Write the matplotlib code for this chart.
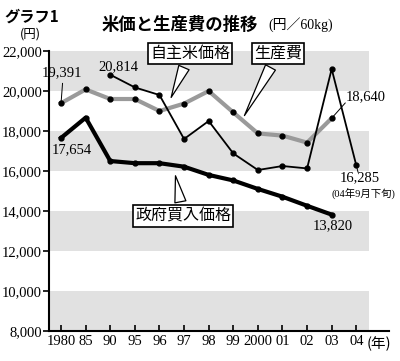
import matplotlib
matplotlib.use("Agg")
import matplotlib.pyplot as plt

# ---------- DATA ----------
years = ["1980", "85", "90", "95", "96", "97", "98", "99", "2000", "01", "02", "03", "04"]

# 生産費 (1980-2003)
cost = [19391, 20080, 19600, 19600, 19000, 19370, 20000, 18930, 17880, 17770, 17420, 18640]
# 自主米価格 (1990-2004)
jishu = [20814, 20180, 19800, 17600, 18500, 16880, 16050, 16250, 16130, 21100, 16285]
# 政府買入価格 (1980-2003)
gov = [17654, 18668, 16500, 16392, 16392, 16217, 15805, 15528, 15104, 14715, 14262, 13820]

yticks = [8000, 10000, 12000, 14000, 16000, 18000, 20000, 22000]
bands = [(8000, 10000), (12000, 14000), (16000, 18000), (20000, 22000)]

SERIF = ["Liberation Serif", "Noto Sans CJK JP"]
GOTHIC = ["Noto Sans CJK JP", "DejaVu Sans"]

# ---------- PLOT ----------
fig = plt.figure(figsize=(4.0, 3.61), dpi=100)
ax = fig.add_axes([0.1225, 0.083, 0.85, 0.7757])

x_all = list(range(len(years)))
for lo, hi in bands:
    ax.fill_between([-0.49, 12.52], lo, hi, color="#e1e1e1", lw=0, zorder=0)

ax.plot(x_all[:len(gov)], gov, color="black", lw=3.0, marker="o", ms=3.5, zorder=3)
ax.plot(x_all[:len(cost)], cost, color="#9a9a9a", lw=3.0, zorder=2)
ax.plot(x_all[:len(cost)], cost, ls="none", marker="o", ms=3.5, color="black", zorder=4)
ax.plot(x_all[2:2 + len(jishu)], jishu, color="black", lw=1.3, marker="o", ms=3.5, zorder=3)

ax.set_xlim(-0.49, 13.33)
ax.set_ylim(8000, 22000)
ax.set_xticks(x_all)
ax.set_xticklabels(years, family=SERIF, fontsize=10.5)
ax.set_yticks(yticks)
ax.set_yticklabels([f"{v:,}" for v in yticks], family=SERIF, fontsize=10.5)
ax.tick_params(axis="x", direction="in", length=4, width=1.2, pad=3)
ax.tick_params(axis="y", direction="out", length=4, width=1.2, pad=1)
for s in ["top", "right"]:
    ax.spines[s].set_visible(False)
for s in ["left", "bottom"]:
    ax.spines[s].set_linewidth(1.5)

ax.annotate("(年)", xy=(12.42, 8000), xytext=(0, -4), textcoords="offset points",
            family=GOTHIC, fontsize=10.5, ha="left", va="top", annotation_clip=False)

# value labels
lab = dict(family=SERIF, fontsize=10.5, ha="center", va="center")
ax.text(0.04, 20900, "19,391", **lab)
ax.plot([0, 0.06], [19391, 20380], color="black", lw=0.7)
ax.text(2.32, 21200, "20,814", **lab)
ax.text(0.45, 17050, "17,654", **lab)
ax.text(12.4, 19700, "18,640", **lab)
ax.plot([11, 11.55], [18640, 19400], color="black", lw=0.7)
ax.text(12.15, 15650, "16,285", **lab)
ax.plot([12, 12.07], [16285, 15950], color="black", lw=0.7)
ax.text(12.3, 14900, "(04年9月下旬)", family=SERIF, fontsize=7.5, ha="center", va="center")
ax.text(11.06, 13250, "13,820", **lab)

# callout boxes
box = dict(boxstyle="square,pad=0.15", fc="white", ec="black", lw=1.2)
wedge = dict(arrowstyle="wedge,tail_width=0.7,shrink_factor=0.5", fc="white", ec="black", lw=0.9)
ax.annotate("自主米価格", xy=(4.43, 19550), xytext=(5.24, 21875), family=GOTHIC, fontsize=11.5,
            ha="center", va="center", bbox=box, arrowprops=wedge, zorder=6)
ax.annotate("生産費", xy=(7.4, 18650), xytext=(8.82, 21875), family=GOTHIC, fontsize=11.5,
            ha="center", va="center", bbox=box, arrowprops=wedge, zorder=6)
ax.annotate("政府買入価格", xy=(4.63, 15900), xytext=(4.96, 13750), family=GOTHIC, fontsize=11.5,
            ha="center", va="center", bbox=box, arrowprops=wedge, zorder=6)

# titles
fig.text(0.012, 0.955, "グラフ1", family=GOTHIC, fontsize=11, fontweight="bold", va="center")
fig.text(0.05, 0.905, "(円)", family=GOTHIC, fontsize=9, va="center")
fig.text(0.255, 0.932, "米価と生産費の推移", family=GOTHIC, fontsize=12.5, fontweight="bold",
         va="center")
fig.text(0.672, 0.932, "(円／60kg)", family=SERIF, fontsize=10, va="center")

fig.savefig("out.png", dpi=100)
